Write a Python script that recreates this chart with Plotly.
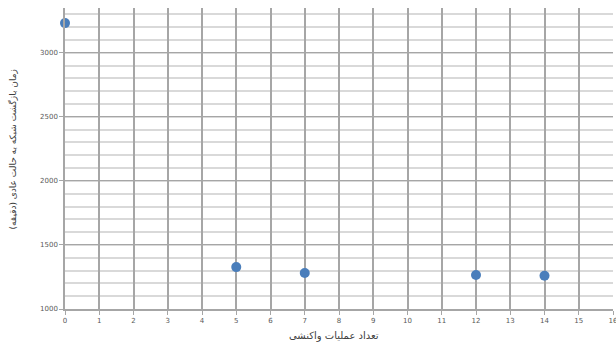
import plotly.graph_objects as go

# Number of reactive operations vs. network recovery time (minutes)
operations = [0, 5, 7, 12, 14]
recovery_minutes = [3232, 1327, 1281, 1266, 1259]

x_ticks = list(range(0, 17))
y_ticks = [1000, 1500, 2000, 2500, 3000]

x_title = "تعداد عملیات واکنشی"
y_title = "زمان بازگشت شبکه به حالت عادی (دقیقه)"

fig = go.Figure(
    go.Scatter(
        x=operations,
        y=recovery_minutes,
        mode="markers",
        marker=dict(size=10, color="#4a7ebb"),
        cliponaxis=False,
        showlegend=False,
    )
)

fig.update_layout(
    width=616,
    height=343,
    margin=dict(l=65, r=3, t=8, b=34, autoexpand=False),
    paper_bgcolor="white",
    plot_bgcolor="white",
    font=dict(family="DejaVu Sans", size=7, color="#595959"),
    xaxis=dict(
        range=[0, 16],
        tickvals=x_ticks,
        ticktext=[str(v) for v in x_ticks],
        ticklabeloverflow="allow",
        automargin=False,
        showgrid=True,
        gridcolor="#a6a6a6",
        gridwidth=1.5,
        zeroline=False,
        showline=True,
        linecolor="#a6a6a6",
        linewidth=1.5,
        ticks="outside",
        ticklen=4,
        tickcolor="#a6a6a6",
        tickfont=dict(size=7, color="#595959"),
    ),
    yaxis=dict(
        range=[1000, 3350],
        tickvals=y_ticks,
        ticktext=[str(v) for v in y_ticks],
        automargin=False,
        showgrid=True,
        gridcolor="#a6a6a6",
        gridwidth=1.2,
        zeroline=False,
        showline=True,
        linecolor="#a6a6a6",
        linewidth=1.5,
        ticks="outside",
        ticklen=4,
        tickcolor="#a6a6a6",
        tickfont=dict(size=7, color="#595959"),
        minor=dict(dtick=100, showgrid=True, gridcolor="#d9d9d9", gridwidth=1.5),
    ),
    annotations=[
        dict(
            text=x_title,
            xref="paper",
            yref="paper",
            x=0.49,
            y=0,
            yanchor="middle",
            yshift=-27,
            showarrow=False,
            font=dict(size=10, color="#404040"),
        ),
        dict(
            text=y_title,
            xref="paper",
            yref="paper",
            x=0,
            xanchor="center",
            xshift=-53,
            y=0.53,
            textangle=-90,
            showarrow=False,
            font=dict(size=9, color="#404040"),
        ),
    ],
)

fig.write_html("out.html")
